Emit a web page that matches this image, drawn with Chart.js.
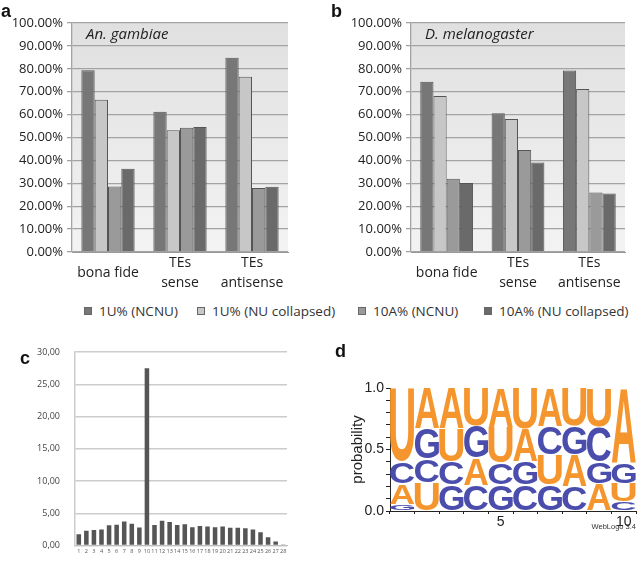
<!DOCTYPE html>
<html>
<head>
<meta charset="utf-8">
<script src="https://cdn.jsdelivr.net/npm/chart.js@4.4.1/dist/chart.umd.min.js"></script>
<style>
  body{margin:0;background:#fff;width:638px;height:566px;position:relative;overflow:hidden;font-family:'Open Sans',sans-serif}
  canvas{position:absolute}
  .tag{position:absolute;font:bold 18px 'Liberation Sans',Arial,sans-serif;line-height:18px;color:#111}
  .lg{position:absolute;top:302px;font:13.5px 'Open Sans',sans-serif;line-height:18px;color:#333;white-space:nowrap}
  .sq{position:absolute;top:307px;width:8px;height:8px;border:1px solid #666;box-sizing:border-box}
</style>
</head>
<body>
<canvas id="pa" width="318" height="300" style="left:0;top:0"></canvas>
<canvas id="pb" width="320" height="300" style="left:318px;top:0"></canvas>
<canvas id="pc" width="318" height="236" style="left:0;top:330px"></canvas>
<canvas id="pd" width="308" height="236" style="left:330px;top:330px"></canvas>
<div class="tag" style="left:1px;top:2px">a</div>
<div class="tag" style="left:331px;top:2px">b</div>
<div class="tag" style="left:20px;top:349px">c</div>
<div class="tag" style="left:335px;top:342px">d</div>
<div id="legend"></div>
<script>
// ─── DATA ────────────────────────────────────────────────────────────────────
const groups = ['bona fide', ['TEs','sense'], ['TEs','antisense']];
const seriesNames = ['1U% (NCNU)','1U% (NU collapsed)','10A% (NCNU)','10A% (NU collapsed)'];
const seriesColors = ['#777777','#c7c7c7','#9a9a9a','#6a6a6a'];
const pctTicks = [0,10,20,30,40,50,60,70,80,90,100];

// An. gambiae (panel a)
const agNCNU1U  = [79.4, 61.2, 84.8];
const agNU1U    = [66.5, 53.2, 76.5];
const agNCNU10A = [28.6, 54.3, 28.0];
const agNU10A   = [36.3, 54.6, 28.5];
// D. melanogaster (panel b)
const dmNCNU1U  = [74.3, 60.6, 79.3];
const dmNU1U    = [68.1, 58.1, 71.2];
const dmNCNU10A = [32.0, 44.5, 26.0];
const dmNU10A   = [30.1, 39.1, 25.6];

// panel c
const cPositions = Array.from({length:28},(_,i)=>String(i+1));
const cValues = [1.75,2.3,2.4,2.5,3.15,3.25,3.75,3.4,2.8,27.5,3.2,3.85,3.65,3.2,3.3,2.85,3.05,2.95,2.85,2.95,2.75,2.75,2.7,2.5,2.05,1.3,0.65,0.1];
const cTicks = [0,5,10,15,20,25,30];

// panel d (sequence logo): letters bottom -> top and their probabilities
const logoPositions = ['1','2','3','4','5','6','7','8','9','10'];
const logoLetters = ['GACU','UCGA','GCUA','CAGU','GCUA','CGAU','GUCA','CAGU','AGCU','CUGA'];
const logoHeights = [
  [0.05,0.17,0.18,0.60],
  [0.23,0.19,0.25,0.33],
  [0.21,0.19,0.27,0.33],
  [0.21,0.22,0.26,0.31],
  [0.21,0.18,0.29,0.32],
  [0.21,0.19,0.27,0.33],
  [0.21,0.245,0.23,0.315],
  [0.20,0.26,0.23,0.31],
  [0.225,0.175,0.285,0.315],
  [0.075,0.15,0.165,0.61]
];
const letterColor = {A:'#f5952d',U:'#f5952d',C:'#4a4dab',G:'#4a4dab'};

Chart.defaults.font.family = "'Open Sans', sans-serif";
Chart.defaults.animation = false;
Chart.defaults.responsive = false;
Chart.defaults.devicePixelRatio = 1;
Chart.defaults.plugins.legend.display = false;
Chart.defaults.plugins.tooltip.enabled = false;

// ─── PANELS a / b ────────────────────────────────────────────────────────────
const plotBg = {
  id:'plotBg',
  beforeDraw(ch){
    const {ctx,chartArea:a}=ch;
    const g=ctx.createLinearGradient(0,a.top,0,a.bottom);
    g.addColorStop(0,'#e0e0e0'); g.addColorStop(1,'#f3f3f3');
    ctx.save(); ctx.fillStyle=g; ctx.fillRect(a.left,a.top,a.right-a.left,a.bottom-a.top); ctx.restore();
  },
  afterDraw(ch,args,opts){
    const {ctx,chartArea:a}=ch;
    ctx.save(); ctx.font="italic 15px 'Open Sans'"; ctx.fillStyle='#222'; ctx.textBaseline='alphabetic';
    ctx.fillText(opts.label,a.left+14,a.top+16); ctx.restore();
  }
};

function pctChart(id,species,sets,axisW,padRight){
  return new Chart(document.getElementById(id),{
    type:'bar',
    data:{labels:groups,datasets:sets.map((d,i)=>({label:seriesNames[i],data:d,backgroundColor:seriesColors[i],
      borderColor:'#555',borderWidth:1,barPercentage:1,categoryPercentage:0.74}))},
    options:{
      layout:{padding:{top:23,right:padRight,left:0,bottom:0}},
      plugins:{plotBg:{label:species}},
      scales:{
        x:{grid:{display:false,drawTicks:false},border:{color:'#999'},
           ticks:{color:'#222',padding:1,maxRotation:0,
             // single-line labels sit between the two lines of the wrapped ones
             font:c=>({size:14,lineHeight:(c.tick&&!Array.isArray(c.tick.label))?2.86:1.43})},
           afterFit:s=>{s.height=48;}},
        y:{min:0,max:100,afterBuildTicks:s=>{s.ticks=pctTicks.map(v=>({value:v}));},
           grid:{color:'#a3a3a3',lineWidth:1.3,tickLength:5},border:{color:'#a3a3a3',width:1.3},
           ticks:{color:'#222',font:{size:13},padding:4,autoSkip:false,callback:v=>v.toFixed(2)+'%'},
           afterFit:s=>{s.width=axisW;}}
      }
    },
    plugins:[plotBg]
  });
}
pctChart('pa','An. gambiae',[agNCNU1U,agNU1U,agNCNU10A,agNU10A],72,30);
pctChart('pb','D. melanogaster',[dmNCNU1U,dmNU1U,dmNCNU10A,dmNU10A],93,13);

// shared legend
const lgSq=[84,197,358,484], lgTx=[99,212,373,499];
document.getElementById('legend').innerHTML=seriesNames.map((n,i)=>
  `<div class="sq" style="left:${lgSq[i]}px;background:${seriesColors[i]}"></div><div class="lg" style="left:${lgTx[i]}px">${n}</div>`).join('');

// ─── PANEL c ─────────────────────────────────────────────────────────────────
new Chart(document.getElementById('pc'),{
  type:'bar',
  data:{labels:cPositions,datasets:[{data:cValues,backgroundColor:'#555555',barPercentage:0.6,categoryPercentage:1}]},
  options:{
    layout:{padding:{top:22,right:31,left:0,bottom:0}},
    scales:{
      x:{grid:{display:false,drawTicks:false},border:{color:'#bdbdbd'},
         ticks:{color:'#555',font:{size:5.5},padding:3,autoSkip:false,maxRotation:0},
         afterFit:s=>{s.height=9;}},
      y:{min:0,max:30,afterBuildTicks:s=>{s.ticks=cTicks.map(v=>({value:v}));},
         grid:{color:'#cccccc',lineWidth:1.5,drawTicks:false},border:{color:'#cccccc',width:1.5},
         ticks:{color:'#444',font:{size:9},padding:15,autoSkip:false,callback:v=>v.toFixed(2).replace('.',',')},
         afterFit:s=>{s.width=75;}}
    }
  }
});

// ─── PANEL d ─────────────────────────────────────────────────────────────────
function drawGlyph(ctx,ch,x,y,w,h,col){
  if(h<=0.5) return;
  ctx.save();
  ctx.font="bold 100px 'Liberation Sans'";
  const m=ctx.measureText(ch);
  const gw=m.actualBoundingBoxLeft+m.actualBoundingBoxRight;
  const gh=m.actualBoundingBoxAscent+m.actualBoundingBoxDescent;
  ctx.translate(x,y);
  ctx.scale(w/gw,h/gh);
  ctx.fillStyle=col;
  ctx.textBaseline='alphabetic';
  ctx.fillText(ch,m.actualBoundingBoxLeft,m.actualBoundingBoxAscent);
  ctx.restore();
}
const logoPlugin={
  id:'logo',
  afterDatasetsDraw(ch){
    const ctx=ch.ctx;
    ch.data.datasets.forEach((ds,di)=>{
      ch.getDatasetMeta(di).data.forEach((bar,i)=>{
        const p=bar.getProps(['x','y','base','width'],true);
        const l=ds.letters[i];
        drawGlyph(ctx,l,p.x-p.width/2,p.y+0.5,p.width,p.base-p.y-1,letterColor[l]);
      });
    });
  },
  afterDraw(ch){
    const {ctx,chartArea:a}=ch;
    ctx.save(); ctx.font="7.5px 'Liberation Sans'"; ctx.fillStyle='#333'; ctx.textAlign='right';
    ctx.fillText('WebLogo 3.4',a.right,a.bottom+18); ctx.restore();
  }
};
new Chart(document.getElementById('pd'),{
  type:'bar',
  data:{labels:logoPositions,datasets:[0,1,2,3].map(k=>({
    data:logoHeights.map(h=>h[k]),letters:logoLetters.map(s=>s[k]),
    backgroundColor:'rgba(0,0,0,0)',barPercentage:0.98,categoryPercentage:1}))},
  options:{
    layout:{padding:{top:58,right:2,left:0,bottom:0}},
    scales:{
      x:{stacked:true,grid:{drawOnChartArea:false,tickLength:3,color:'#222'},border:{color:'#222'},
         ticks:{color:'#222',font:{family:"'Liberation Sans'",size:14},padding:0,autoSkip:false,maxRotation:0,
           callback:(v,i)=>(logoPositions[i]==='5'||logoPositions[i]==='10')?logoPositions[i]:''},
         afterFit:s=>{s.height=55;}},
      y:{stacked:true,min:0,max:1,ticks:{stepSize:0.1,autoSkip:false,color:'#222',font:{family:"'Liberation Sans'",size:14},padding:2,
           callback:v=>{const t=Math.round(v*10);return t%5===0?(t/10).toFixed(1):'';}},
         grid:{drawOnChartArea:false,tickLength:4,color:'#222'},border:{color:'#222'},
         title:{display:true,text:'probability',color:'#222',font:{family:"'Liberation Sans'",size:15,lineHeight:1.2},padding:{top:19,bottom:0}},
         afterFit:s=>{s.width=60;}}
    }
  },
  plugins:[logoPlugin]
});
</script>
</body>
</html>
